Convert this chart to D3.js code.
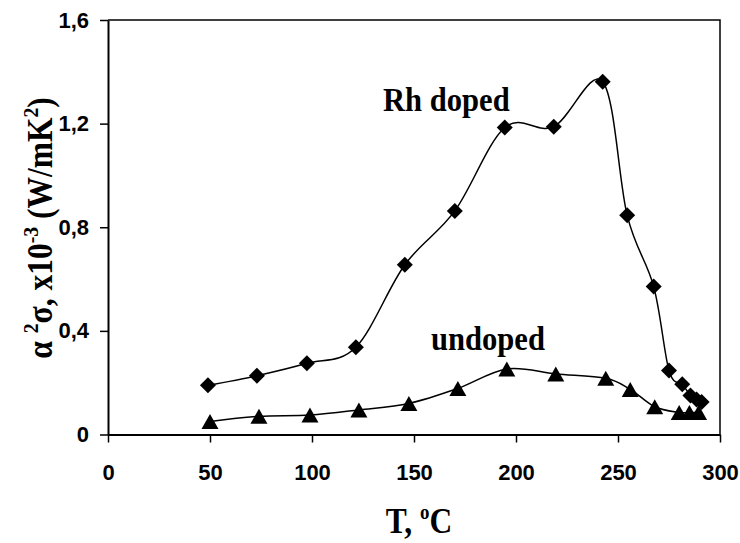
<!DOCTYPE html>
<html>
<head>
<meta charset="utf-8">
<script src="https://cdn.jsdelivr.net/npm/d3@7"></script>
<style>
	body { margin: 0; background: #fff; }
	svg { display: block; }
	.tick text { font-family: "Liberation Sans", Arial, sans-serif; font-weight: bold; font-size: 22px; fill: #000; }
	.title { font-family: "Liberation Serif", "Times New Roman", serif; font-weight: bold; fill: #000; }
</style>
</head>
<body>
<div class="wrapper"></div>
<script>

// Rh doped series (diamonds)
var rhT = [49, 73, 97.5, 121.5, 145.5, 170, 194.5, 218.5, 242.5, 254.5, 267.5, 275, 281.5, 285.5, 288.5, 291];
var rhV = [0.19, 0.227, 0.275, 0.337, 0.655, 0.863, 1.185, 1.188, 1.362, 0.846, 0.571, 0.247, 0.194, 0.151, 0.135, 0.125];

// undoped series (triangles)
var undT = [50, 74, 99, 123, 147.5, 171.5, 195.5, 219.5, 244, 256, 268, 280, 285, 289.5];
var undV = [0.05, 0.07, 0.075, 0.095, 0.12, 0.178, 0.253, 0.234, 0.217, 0.174, 0.107, 0.085, 0.085, 0.085];

var xTicks = [0, 50, 100, 150, 200, 250, 300];
var yTicks = [0, 0.4, 0.8, 1.2, 1.6];

var WIDTH = 740,
	HEIGHT = 543,
	LEFT = 108,
	RIGHT = 720,
	TOP = 20,
	BOTTOM = 434.5;

var svg = d3.select(".wrapper")
	.append("svg")
		.attr("width", WIDTH)
		.attr("height", HEIGHT);

var x = d3.scaleLinear().domain([0, 300]).range([LEFT, RIGHT]);
var y = d3.scaleLinear().domain([0, 1.6]).range([BOTTOM, TOP]);

function zip(a, b) {
	return a.map(function(d, i) { return [d, b[i]]; });
}

// plot frame: top and right
svg.append("path")
	.attr("d", "M" + LEFT + "," + TOP + "H" + RIGHT + "V" + BOTTOM)
	.attr("fill", "none")
	.attr("stroke", "#000")
	.attr("stroke-width", 1.5);

// axes
var xAxis = d3.axisBottom(x).tickValues(xTicks).tickSizeOuter(0).tickSizeInner(8).tickPadding(22)
	.tickFormat(d3.format("d"));
var yAxis = d3.axisLeft(y).tickValues(yTicks).tickSizeOuter(0).tickSizeInner(8).tickPadding(11)
	.tickFormat(function(d) { return d === 0 ? "0" : d3.format(".1f")(d).replace(".", ","); });

var gx = svg.append("g")
	.attr("transform", "translate(0," + BOTTOM + ")")
	.call(xAxis);
var gy = svg.append("g")
	.attr("transform", "translate(" + LEFT + ",0)")
	.call(yAxis);

[gx, gy].forEach(function(g) {
	g.attr("font-family", null).attr("font-size", null);
	g.select(".domain").attr("stroke-width", 2);
	g.selectAll(".tick line").attr("stroke-width", 1.5);
});

// smoothed lines
var line = d3.line()
	.x(function(d) { return x(d[0]); })
	.y(function(d) { return y(d[1]); })
	.curve(d3.curveCatmullRom.alpha(0));

var rhData = zip(rhT, rhV),
	undData = zip(undT, undV);

svg.append("path")
	.datum(undData)
	.attr("d", line)
	.attr("fill", "none")
	.attr("stroke", "#000")
	.attr("stroke-width", 1.5);

svg.append("path")
	.datum(rhData)
	.attr("d", line)
	.attr("fill", "none")
	.attr("stroke", "#000")
	.attr("stroke-width", 1.5);

// markers
svg.append("g").selectAll("path")
	.data(undData)
	.enter()
	.append("path")
		.attr("d", "M0,-7.5L8.5,7.5L-8.5,7.5Z")
		.attr("transform", function(d) { return "translate(" + x(d[0]) + "," + y(d[1]) + ")"; })
		.attr("fill", "#000");

svg.append("g").selectAll("path")
	.data(rhData)
	.enter()
	.append("path")
		.attr("d", "M0,-8L8,0L0,8L-8,0Z")
		.attr("transform", function(d) { return "translate(" + x(d[0]) + "," + y(d[1]) + ")"; })
		.attr("fill", "#000");

// series labels (condensed a little, like the original)
svg.append("text")
	.attr("class", "title")
	.attr("transform", "translate(383,111) scale(0.9,1)")
	.attr("font-size", 34)
	.text("Rh doped");

svg.append("text")
	.attr("class", "title")
	.attr("transform", "translate(431,350) scale(0.9,1)")
	.attr("font-size", 34)
	.text("undoped");

// axis titles
var xt = svg.append("text")
	.attr("class", "title")
	.attr("transform", "translate(419,533) scale(0.9,1)")
	.attr("text-anchor", "middle")
	.attr("font-size", 35);
xt.append("tspan").text("T, ");
xt.append("tspan").attr("font-size", 21).attr("dy", -14).text("o");
xt.append("tspan").attr("dy", 14).text("C");

var yt = svg.append("text")
	.attr("class", "title")
	.attr("transform", "translate(52,228) rotate(-90) scale(0.9,1)")
	.attr("text-anchor", "middle")
	.attr("font-size", 35);
yt.append("tspan").text("α ");
yt.append("tspan").attr("font-size", 22).attr("dy", -14).text("2");
yt.append("tspan").attr("dy", 14).text("σ, x10");
yt.append("tspan").attr("font-size", 22).attr("dy", -14).text("-3");
yt.append("tspan").attr("dy", 14).text(" (W/mK");
yt.append("tspan").attr("font-size", 22).attr("dy", -14).text("2");
yt.append("tspan").attr("dy", 14).text(")");

</script>
</body>
</html>
